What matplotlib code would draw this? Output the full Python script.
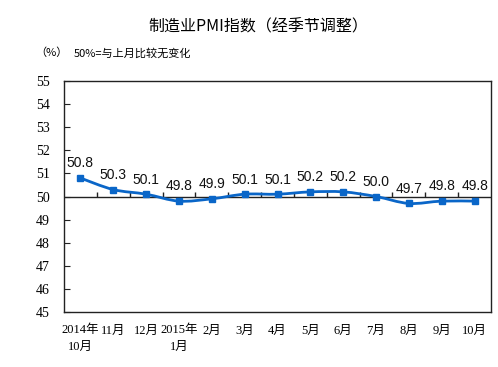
import matplotlib
matplotlib.use("Agg")
import matplotlib.pyplot as plt
import numpy as np
from matplotlib.path import Path
from matplotlib.patches import PathPatch

# data
months = ["2014年\n10月", "11月", "12月", "2015年\n1月", "2月", "3月", "4月",
          "5月", "6月", "7月", "8月", "9月", "10月"]
pmi = [50.8, 50.3, 50.1, 49.8, 49.9, 50.1, 50.1, 50.2, 50.2, 50.0, 49.7, 49.8, 49.8]
yticks = [45, 46, 47, 48, 49, 50, 51, 52, 53, 54, 55]

blue = "#0a66c8"
serif = ["Liberation Serif", "Noto Sans CJK SC"]
cjk = ["Noto Sans CJK SC", "DejaVu Sans"]

fig = plt.figure(figsize=(4.98, 3.67), dpi=100)
ax = fig.add_axes([64 / 498, 1 - 312 / 367, 427 / 498, 231 / 367])

x = np.arange(len(pmi))
y = np.array(pmi)

# smoothed line (Catmull-Rom style bezier through the points)
verts = [(x[0], y[0])]
codes = [Path.MOVETO]
n = len(x)
for i in range(n - 1):
    p0 = np.array([x[max(i - 1, 0)], y[max(i - 1, 0)]])
    p1 = np.array([x[i], y[i]])
    p2 = np.array([x[i + 1], y[i + 1]])
    p3 = np.array([x[min(i + 2, n - 1)], y[min(i + 2, n - 1)]])
    c1 = p1 + (p2 - p0) / 6
    c2 = p2 - (p3 - p1) / 6
    verts += [tuple(c1), tuple(c2), tuple(p2)]
    codes += [Path.CURVE4] * 3
ax.add_patch(PathPatch(Path(verts, codes), fill=False, edgecolor=blue, lw=2, zorder=3))
ax.plot(x, y, ls="none", marker="s", ms=4.5, color=blue, zorder=4)

for xi, yi in zip(x, y):
    ax.text(xi, yi + 0.33, f"{yi:.1f}", ha="center", va="bottom",
            fontsize=10, family="Liberation Sans", color="#111111")

# 50 line with upward ticks at category boundaries
ax.axhline(50, color="#222222", lw=1, zorder=2)
ax.vlines(np.arange(0.5, n - 0.5, 1), 50, 50.18, color="#222222", lw=1)

ax.set_xlim(-0.5, n - 0.5)
ax.set_ylim(45, 55)
ax.set_yticks(yticks)
ax.set_yticklabels([str(v) for v in yticks], family="Liberation Serif", fontsize=10)
ax.tick_params(axis="y", direction="in", length=4, pad=10, color="#222222")
ax.set_xticks(x)
ax.set_xticklabels(months, fontsize=9, family=serif, linespacing=1.45)
ax.tick_params(axis="x", length=0, pad=9)
for lbl in ax.get_xticklabels():
    lbl.set_verticalalignment("top")
for s in ax.spines.values():
    s.set_color("#222222")
    s.set_linewidth(1)

fig.text(258 / 498, 1 - 27 / 367, "制造业PMI指数（经季节调整）", ha="center", va="center",
         fontsize=11.5, family=cjk)
fig.text(35 / 498, 1 - 53 / 367, "（%）", ha="left", va="center", fontsize=8, family=cjk)
fig.text(74 / 498, 1 - 53 / 367, "50%=与上月比较无变化", ha="left", va="center",
         fontsize=8, family=cjk)

fig.savefig("out.png", dpi=100)
